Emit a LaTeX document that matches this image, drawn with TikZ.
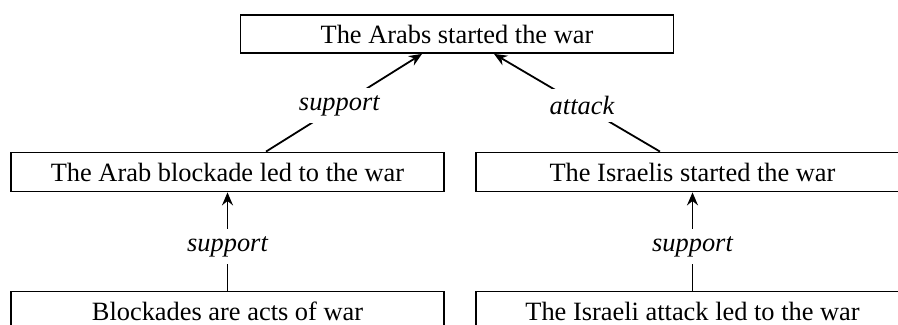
\documentclass[tikz,border=0pt]{standalone}
\usepackage{fontspec}
\setmainfont{Liberation Serif}
\usetikzlibrary{arrows.meta,calc}

\tikzset{
  claim/.style={draw, line width=0.9pt, minimum width=216.5pt, minimum height=19.5pt,
    inner sep=0pt, font=\fontsize{13.2}{15}\selectfont},
  rel/.style={fill=white, inner sep=3.5pt, font=\fontsize{13.2}{15}\selectfont\itshape},
  argedge/.style={line width=0.9pt, -{Stealth[length=6.5pt,width=5.5pt,inset=2.2pt]}},
}

\begin{document}
\begin{tikzpicture}[x=0.5pt, y=-0.5pt]
  \useasboundingbox (0,0) rectangle (898,325);
  \clip (0,0) rectangle (898,325);

  % top claim
  \node[claim, minimum height=19pt] (arabs) at (457,34) {The Arabs started the war};

  % second row
  \node[claim] (blockade) at (227.5,172) {The Arab blockade led to the war};
  \node[claim] (israelis) at (692.5,172) {The Israelis started the war};

  % bottom row
  \node[claim] (acts) at (227.5,311) {Blockades are acts of war};
  \node[claim] (israeliattack) at (692.5,311) {The Israeli attack led to the war};

  % relations
  \draw[argedge] ($(blockade.north)+(38.5,0)$) -- node[rel, pos=0.47] {support} ($(arabs.south)+(-35,0)$);
  \draw[argedge] ($(israelis.north)+(-32.5,0)$) -- node[rel, pos=0.47] {attack} ($(arabs.south)+(37,0)$);
  \draw[argedge] (acts) -- node[rel, pos=0.45] {support} (blockade);
  \draw[argedge] (israeliattack) -- node[rel, pos=0.45] {support} (israelis);
\end{tikzpicture}
\end{document}
